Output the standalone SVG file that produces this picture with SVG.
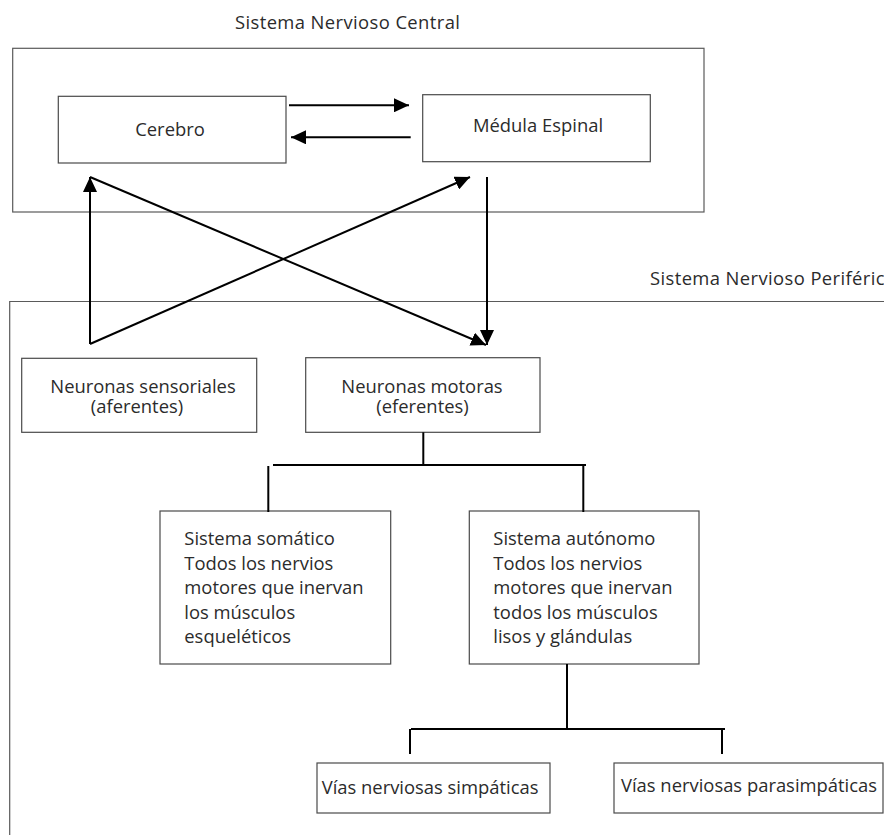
<svg xmlns="http://www.w3.org/2000/svg" width="884" height="835" viewBox="0 0 884 835">
<style>
  .box { fill: #ffffff; stroke: #4a4a4a; stroke-width: 1.2; }
  .frame { fill: none; stroke: #5a5a5a; stroke-width: 1.2; }
  .t { font-family: "Open Sans", "Noto Sans", sans-serif; font-size: 18.4px; fill: #2b2b2b; }
  .c { text-anchor: middle; }
  .title { letter-spacing: 0.4px; }
  .arr { stroke: #000; stroke-width: 2; fill: none; marker-end: url(#head); }
  .ln { stroke: #000; stroke-width: 2; fill: none; }
</style>
<defs>
  <marker id="head" markerUnits="userSpaceOnUse" markerWidth="16" markerHeight="14" refX="15" refY="7" orient="auto">
    <path d="M0,0 L15,7 L0,14 Z" fill="#000"/>
  </marker>
</defs>

<g id="cns">
  <rect class="frame" x="12.7" y="48.3" width="691.3" height="163.7"/>
  <text class="t title" x="235" y="29">Sistema Nervioso Central</text>
</g>
<g id="pns">
  <path class="frame" d="M884,301.5 H9.7 V835"/>
  <text class="t title" x="650" y="285">Sistema Nervioso Periférico</text>
</g>

<g id="cerebro">
  <rect class="box" x="58.3" y="96.3" width="227.7" height="66.7"/>
  <text class="t c" x="170" y="136">Cerebro</text>
</g>
<g id="medula">
  <rect class="box" x="422.7" y="94.7" width="227.6" height="67"/>
  <text class="t c" x="538" y="132">Médula Espinal</text>
</g>
<g id="sensoriales">
  <rect class="box" x="21.7" y="358.3" width="235" height="74"/>
  <text class="t c" x="143" y="393">Neuronas sensoriales</text>
  <text class="t c" x="137" y="413">(aferentes)</text>
</g>
<g id="motoras">
  <rect class="box" x="305.7" y="357.7" width="234.3" height="74.6"/>
  <text class="t c" x="422" y="393">Neuronas motoras</text>
  <text class="t c" x="422.5" y="413">(eferentes)</text>
</g>
<g id="somatico">
  <rect class="box" x="160" y="511" width="230.7" height="153"/>
  <text class="t" x="184.3" y="545">Sistema somático</text>
  <text class="t" x="184.3" y="569.5">Todos los nervios</text>
  <text class="t" x="184.3" y="594">motores que inervan</text>
  <text class="t" x="184.3" y="618.5">los músculos</text>
  <text class="t" x="184.3" y="643">esqueléticos</text>
</g>
<g id="autonomo">
  <rect class="box" x="469.3" y="511" width="229.7" height="153"/>
  <text class="t" x="493.3" y="545">Sistema autónomo</text>
  <text class="t" x="493.3" y="569.5">Todos los nervios</text>
  <text class="t" x="493.3" y="594">motores que inervan</text>
  <text class="t" x="493.3" y="618.5">todos los músculos</text>
  <text class="t" x="493.3" y="643">lisos y glándulas</text>
</g>
<g id="simpaticas">
  <rect class="box" x="317" y="763" width="233" height="50"/>
  <text class="t" x="321.7" y="794">Vías nerviosas simpáticas</text>
</g>
<g id="parasimpaticas">
  <rect class="box" x="614" y="763" width="269" height="50"/>
  <text class="t" x="621" y="792">Vías nerviosas parasimpáticas</text>
</g>

<g id="connectors">
  <line class="arr" x1="289" y1="105.3" x2="409" y2="105.3"/>
  <line class="arr" x1="410.7" y1="137.3" x2="291" y2="137.3"/>
  <line class="arr" x1="90" y1="344" x2="90" y2="177"/>
  <line class="arr" x1="90" y1="344" x2="470" y2="177"/>
  <line class="arr" x1="90" y1="177" x2="486" y2="345"/>
  <line class="arr" x1="487" y1="177" x2="487" y2="345"/>
  <line class="ln" x1="423.3" y1="432.3" x2="423.3" y2="465"/>
  <line class="ln" x1="273" y1="465" x2="586" y2="465"/>
  <line class="ln" x1="268.3" y1="466" x2="268.3" y2="512"/>
  <line class="ln" x1="583.3" y1="465" x2="583.3" y2="512"/>
  <line class="ln" x1="567" y1="664" x2="567" y2="729"/>
  <line class="ln" x1="411" y1="729" x2="725" y2="729"/>
  <line class="ln" x1="410" y1="729" x2="410" y2="754"/>
  <line class="ln" x1="722" y1="729" x2="722" y2="754"/>
</g>
</svg>
